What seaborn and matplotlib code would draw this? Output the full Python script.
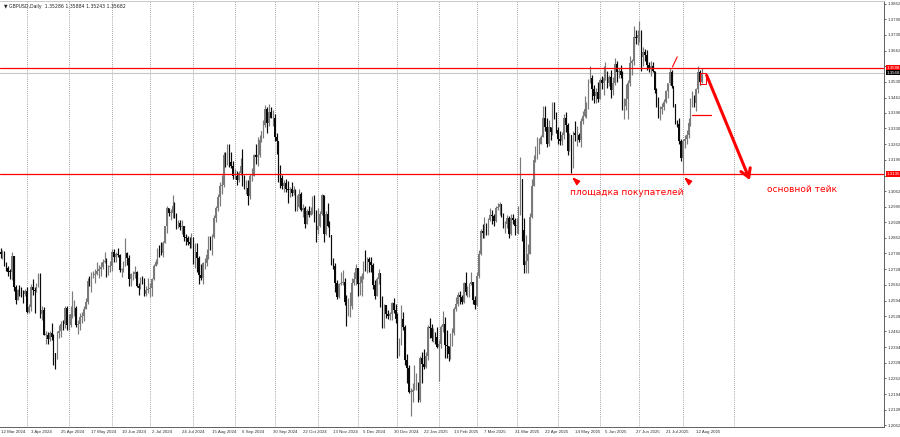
import numpy as np
import pandas as pd
import seaborn as sns
import matplotlib.pyplot as plt
from matplotlib.patches import Rectangle

# GBPUSD daily, prices x 10000, one row per month (Mar 2024 .. Aug 2025)
closes = [
    12795, 12800, 12752, 12735, 12718, 12717, 12786, 12652, 12598, 12640, 12637, 12627, 12622, 12636,
    12547, 12566, 12650, 12640, 12637, 12658, 12676, 12538, 12555, 12448, 12448, 12428, 12455, 12438, 12371, 12346, 12455, 12465, 12496, 12494, 12563, 12490,
    12490, 12536, 12545, 12562, 12489, 12494, 12524, 12526, 12560, 12586, 12676, 12668, 12703, 12705, 12708, 12721, 12727, 12738, 12760, 12763, 12716, 12736, 12740,
    12800, 12779, 12795, 12789, 12723, 12727, 12746, 12796, 12776, 12686, 12707, 12708, 12717, 12655, 12647, 12686, 12685, 12622, 12640, 12645,
    12646, 12686, 12742, 12760, 12814, 12807, 12796, 12842, 12912, 12991, 12970, 12970, 13000, 12960, 12915, 12925, 12910, 12913, 12865, 12860, 12845, 12838, 12855,
    12775, 12800, 12775, 12705, 12690, 12755, 12755, 12790, 12860, 12825, 12865, 12945, 12990, 13035, 13085, 13090, 13215, 13185, 13260, 13185, 13170, 13125,
    13125, 13110, 13140, 13170, 13125, 13075, 13075, 13040, 13125, 13125, 13215, 13210, 13215, 13280, 13320, 13345, 13415, 13355, 13400, 13375, 13375,
    13295, 13275, 13125, 13120, 13085, 13095, 13070, 13065, 13070, 13055, 13065, 12995, 12995, 13050, 12980, 12990, 12920, 12975, 12960, 12975, 13030, 12970, 12895,
    12915, 12965, 13045, 12880, 12965, 12915, 12875, 12755, 12740, 12670, 12610, 12665, 12670, 12675, 12590, 12530, 12570, 12570, 12670, 12685, 12735,
    12665, 12670, 12700, 12750, 12745, 12770, 12760, 12745, 12660, 12615, 12685, 12710, 12575, 12560, 12575, 12535, 12530, 12535, 12585, 12555, 12515,
    12375, 12420, 12515, 12480, 12340, 12305, 12205, 12205, 12210, 12240, 12240, 12170, 12350, 12325, 12310, 12355, 12480, 12475, 12435, 12450, 12440, 12395,
    12410, 12480, 12495, 12405, 12400, 12365, 12450, 12455, 12560, 12580, 12620, 12610, 12590, 12670, 12630, 12630, 12665, 12675, 12595, 12575,
    12700, 12795, 12890, 12885, 12920, 12880, 12940, 12960, 12955, 12935, 12990, 12995, 13005, 12965, 12915, 12920, 12945, 12880, 12945, 12940, 12915,
    12915, 12965, 13115, 12895, 12745, 12765, 12795, 12950, 13085, 13195, 13235, 13255, 13265, 13295, 13375, 13335, 13265, 13335, 13315, 13440, 13390, 13325,
    13285, 13275, 13300, 13375, 13345, 13235, 13300, 13180, 13310, 13300, 13300, 13280, 13360, 13385, 13415, 13425, 13535, 13545, 13500, 13470, 13485, 13455,
    13535, 13525, 13545, 13570, 13525, 13550, 13495, 13525, 13605, 13570, 13575, 13560, 13420, 13425, 13455, 13525, 13610, 13620, 13720, 13715, 13730,
    13745, 13635, 13655, 13645, 13600, 13590, 13595, 13575, 13495, 13440, 13380, 13415, 13420, 13445, 13490, 13525, 13570, 13510, 13435, 13355, 13350, 13275, 13205,
    13275, 13285, 13300, 13355, 13450, 13450, 13440, 13500, 13570, 13530, 13568,
]
highs = [
    12820, 12810, 12805, 12760, 12740, 12730, 12803, 12773, 12660, 12645, 12660, 12650, 12640, 12645,
    12650, 12580, 12665, 12685, 12650, 12670, 12710, 12710, 12570, 12565, 12465, 12460, 12465, 12500, 12450, 12360, 12465, 12490, 12505, 12510, 12570, 12570,
    12535, 12570, 12635, 12595, 12570, 12510, 12540, 12545, 12570, 12605, 12690, 12700, 12715, 12720, 12730, 12760, 12745, 12760, 12770, 12800, 12775, 12745, 12765,
    12815, 12815, 12800, 12820, 12795, 12735, 12765, 12860, 12800, 12790, 12710, 12720, 12740, 12720, 12670, 12695, 12700, 12690, 12655, 12690,
    12670, 12690, 12750, 12770, 12820, 12830, 12845, 12850, 12915, 13000, 12990, 12985, 13044, 13015, 12970, 12940, 12940, 12940, 12910, 12880, 12870, 12865, 12885,
    12865, 12840, 12840, 12785, 12750, 12760, 12775, 12815, 12870, 12870, 12880, 12960, 13000, 13050, 13100, 13130, 13230, 13230, 13265, 13265, 13230, 13190,
    13155, 13150, 13150, 13205, 13240, 13130, 13110, 13110, 13135, 13160, 13220, 13265, 13295, 13300, 13300, 13365, 13430, 13420, 13434, 13420, 13410,
    13390, 13310, 13270, 13175, 13130, 13110, 13115, 13105, 13080, 13100, 13085, 13070, 13045, 13070, 13060, 13005, 13000, 12985, 13000, 12995, 13040, 13045, 12980,
    12990, 12975, 13050, 13045, 12975, 13010, 12935, 12875, 12775, 12755, 12680, 12670, 12715, 12725, 12690, 12620, 12605, 12630, 12690, 12715, 12750,
    12720, 12700, 12710, 12765, 12811, 12780, 12780, 12780, 12755, 12680, 12695, 12730, 12710, 12615, 12580, 12560, 12555, 12545, 12590, 12605, 12580,
    12540, 12435, 12575, 12545, 12490, 12365, 12320, 12220, 12240, 12320, 12285, 12245, 12355, 12375, 12385, 12375, 12490, 12520, 12495, 12475, 12460, 12480,
    12425, 12490, 12550, 12525, 12470, 12400, 12455, 12475, 12565, 12610, 12630, 12635, 12620, 12675, 12715, 12655, 12670, 12715, 12675, 12615,
    12715, 12810, 12900, 12920, 12950, 12925, 12945, 12990, 12980, 12965, 13000, 13010, 13015, 13005, 12970, 12935, 12960, 12955, 12965, 12965, 12945,
    12945, 13000, 13207, 13110, 12945, 12875, 12835, 12970, 13115, 13215, 13255, 13295, 13290, 13300, 13424, 13425, 13375, 13365, 13335, 13445, 13445, 13400,
    13335, 13320, 13315, 13390, 13400, 13355, 13310, 13300, 13320, 13360, 13340, 13310, 13375, 13405, 13470, 13445, 13540, 13595, 13560, 13515, 13505, 13530,
    13545, 13555, 13595, 13615, 13575, 13560, 13580, 13550, 13630, 13620, 13590, 13600, 13575, 13460, 13520, 13535, 13640, 13625, 13770, 13750, 13750,
    13789, 13750, 13680, 13670, 13665, 13615, 13620, 13615, 13575, 13505, 13465, 13425, 13440, 13455, 13495, 13525, 13589, 13580, 13510, 13430, 13365, 13375, 13285,
    13285, 13300, 13325, 13375, 13460, 13490, 13475, 13505, 13595, 13580, 13588,
]
lows = [
    12775, 12770, 12740, 12720, 12700, 12685, 12680, 12635, 12580, 12595, 12615, 12610, 12585, 12615,
    12540, 12540, 12550, 12620, 12540, 12630, 12650, 12520, 12510, 12445, 12410, 12410, 12420, 12425, 12320, 12300, 12350, 12435, 12440, 12470, 12475, 12470,
    12470, 12480, 12520, 12530, 12480, 12450, 12470, 12500, 12505, 12565, 12580, 12655, 12630, 12690, 12670, 12705, 12690, 12700, 12730, 12755, 12695, 12705, 12715,
    12720, 12760, 12760, 12780, 12715, 12695, 12715, 12740, 12745, 12655, 12655, 12680, 12690, 12650, 12620, 12645, 12665, 12615, 12615, 12625,
    12610, 12615, 12680, 12740, 12750, 12780, 12790, 12780, 12840, 12885, 12955, 12940, 12945, 12945, 12900, 12905, 12895, 12880, 12850, 12830, 12830, 12820, 12820,
    12750, 12735, 12715, 12665, 12680, 12665, 12730, 12740, 12770, 12810, 12790, 12860, 12930, 12975, 13000, 13050, 13080, 13165, 13175, 13165, 13160, 13115,
    13115, 13090, 13100, 13130, 13085, 13070, 13050, 13002, 13030, 13105, 13125, 13180, 13170, 13210, 13270, 13290, 13335, 13310, 13340, 13375, 13340,
    13275, 13220, 13100, 13075, 13070, 13060, 13060, 13010, 13035, 13040, 13045, 12975, 12975, 12990, 12975, 12950, 12905, 12920, 12950, 12960, 12965, 12930, 12845,
    12880, 12910, 12960, 12845, 12875, 12910, 12865, 12745, 12730, 12630, 12600, 12605, 12660, 12660, 12575, 12487, 12560, 12525, 12560, 12660, 12660,
    12615, 12620, 12615, 12685, 12720, 12710, 12715, 12715, 12645, 12600, 12615, 12665, 12565, 12475, 12475, 12520, 12515, 12510, 12510, 12540, 12500,
    12350, 12355, 12405, 12470, 12320, 12240, 12200, 12100, 12160, 12210, 12210, 12160, 12160, 12240, 12300, 12305, 12340, 12435, 12420, 12415, 12410, 12390,
    12250, 12390, 12460, 12350, 12350, 12335, 12345, 12400, 12445, 12550, 12570, 12580, 12580, 12585, 12620, 12610, 12610, 12660, 12580, 12560,
    12570, 12690, 12790, 12860, 12860, 12875, 12875, 12935, 12920, 12915, 12930, 12980, 12960, 12950, 12905, 12885, 12905, 12860, 12875, 12920, 12875,
    12885, 12880, 12960, 12850, 12710, 12710, 12710, 12795, 12945, 13085, 13185, 13200, 13220, 13265, 13295, 13320, 13250, 13255, 13280, 13300, 13370, 13310,
    13265, 13260, 13260, 13285, 13315, 13215, 13240, 13140, 13160, 13275, 13255, 13270, 13250, 13350, 13380, 13375, 13415, 13525, 13450, 13440, 13440, 13445,
    13455, 13500, 13475, 13535, 13505, 13510, 13460, 13475, 13515, 13530, 13545, 13545, 13410, 13370, 13410, 13370, 13510, 13560, 13600, 13690, 13685,
    13700, 13575, 13595, 13620, 13580, 13570, 13555, 13570, 13480, 13420, 13375, 13365, 13390, 13410, 13440, 13460, 13515, 13505, 13420, 13350, 13335, 13265, 13190,
    13140, 13245, 13265, 13290, 13340, 13420, 13420, 13405, 13480, 13515, 13524,
]
first_open = 12800
holidays = ["2024-12-25", "2025-01-01"]

price_labels = ["1.2062", "1.2128", "1.2194", "1.2262", "1.2328", "1.2394", "1.2462",
                "1.2528", "1.2594", "1.2662", "1.2728", "1.2796", "1.2862", "1.2928",
                "1.2996", "1.3062", "1.3128", "1.3196", "1.3262", "1.3330", "1.3396",
                "1.3462", "1.3530", "1.3596", "1.3662", "1.3730", "1.3796", "1.3862"]
resistance = 1.3588
support = 1.3135
last_ohlc = ["1.35286", "1.35884", "1.35243", "1.35682"]
take_level = 1.3388

dates = pd.bdate_range("2024-03-12", "2025-08-15", freq="C", holidays=holidays)
n = min(len(dates), len(closes))
df = pd.DataFrame({
    "date": dates[:n],
    "close": np.array(closes[:n]) / 10000,
    "high": np.array(highs[:n]) / 10000,
    "low": np.array(lows[:n]) / 10000,
})
df["open"] = df["close"].shift(1).fillna(first_open / 10000)
df["high"] = df[["high", "open", "close"]].max(axis=1)
df["low"] = df[["low", "open", "close"]].min(axis=1)
df["x"] = np.arange(n)
last_price = float(last_ohlc[3])

sns.set_theme(style="white")
plt.rcParams["font.family"] = ["DejaVu Sans"]

fig = plt.figure(figsize=(9, 4.37), dpi=100)
ax = fig.add_axes([0, 10 / 437, 884 / 900, 426 / 437])
ax.set_facecolor("white")

# month grid (dotted), incl. next month in empty space
month_first = df.groupby(df["date"].dt.to_period("M"))["x"].first().values[1:]
future = n - 1 + (pd.Timestamp("2025-09-01") - df["date"].iloc[-1]).days
for gx in list(month_first) + [future]:
    ax.axvline(gx, color="#505050", lw=0.5, ls=(0, (1, 2)), zorder=0)

# candles
up = df["close"] >= df["open"]
col = np.where(up, "#7a7a7a", "#0a0a0a")
ax.vlines(df["x"], df["low"], df["high"], colors=col, lw=0.85, zorder=2)
body_lo = df[["open", "close"]].min(axis=1)
body_h = (df["close"] - df["open"]).abs().clip(lower=0.00015)
ax.bar(df["x"], body_h, bottom=body_lo, width=0.75, color=col, lw=0, zorder=2)

# levels
ax.axhline(resistance, color="#ff0000", lw=0.9, zorder=3)
ax.axhline(support, color="#ff0000", lw=0.9, zorder=3)
ax.axhline(last_price, color="#c8c8c8", lw=0.8, zorder=1)

# drawings
last_x = n - 1
ax.annotate("", xy=(last_x + 26, support - 0.0037), xytext=(last_x + 2, last_price),
            arrowprops=dict(arrowstyle="->,head_length=0.5,head_width=0.3",
                            color="#ff0000", lw=2.2), zorder=4)
ax.add_patch(Rectangle((last_x - 1, last_price - 0.0050), 3, 0.0050, fill=False,
                       ec="#ff0000", lw=0.7, zorder=4))
ax.plot([last_x - 5, last_x + 5], [take_level, take_level], color="#ff0000", lw=0.9, zorder=4)
peak_x = df.loc[df["date"] == "2025-07-23", "x"].iloc[0]
ax.plot([peak_x + 1.5, peak_x + 4], [resistance + 0.0005, resistance + 0.0048],
        color="#ff0000", lw=0.8, zorder=4)

tri = [(-1, 1), (1, 0.1), (0.1, -1), (-1, 1)]
for d in ["2025-05-12", "2025-08-01"]:
    bx = df.loc[df["date"] == d, "x"].iloc[0]
    ax.plot(bx + 2.5, support - 0.0028, marker=tri, ms=4.5, color="#ff0000", zorder=4)

ax.text(301.5, support - 0.0079, "площадка покупателей", color="#ff0000",
        fontsize=6.5, va="center", ha="left")
ax.text(405.5, support - 0.0066, "основной тейк", color="#ff0000",
        fontsize=6.5, va="center", ha="left")

ax.text(0.004, 0.992, "▼ GBPUSD,Daily  " + " ".join(last_ohlc), transform=ax.transAxes,
        fontsize=3.3, va="top", ha="left", color="#222222")

# axes
ax.set_xlim(-0.3, 467.4)
ax.set_ylim(1.3862 - 423 / 2339, 1.3862 + 3 / 2339)

xt = df["x"].values[::16]
ax.set_xticks(xt)
ax.set_xticklabels([f"{d.day} {d:%b %Y}" for d in df["date"].iloc[::16]],
                   ha="left", fontsize=3.2, family="Liberation Sans")
ax.yaxis.tick_right()
ax.set_yticks([float(v) for v in price_labels])
# labels hidden behind the level boxes
shown = [v if min(abs(float(v) - resistance), abs(float(v) - support)) > 0.002 else ""
         for v in price_labels]
ax.set_yticklabels(shown, fontsize=3.2, family="Liberation Sans")
ax.tick_params(axis="both", length=1.5, width=0.5, pad=1, colors="#333333")
ax.tick_params(axis="x", pad=0.8)

for lvl, txt, bg in [(resistance, f"{resistance:.4f}", "#ff0000"),
                     (last_price, f"{last_price:.4f}", "#000000"),
                     (support, f"{support:.4f}", "#ff0000")]:
    ax.text(1.0025, lvl, txt, transform=ax.get_yaxis_transform(), fontsize=3.2,
            family="Liberation Sans", color="white", va="center", ha="left",
            bbox=dict(boxstyle="square,pad=0.15", fc=bg, ec="none"), zorder=5)

ax.spines["left"].set_visible(False)
ax.spines["top"].set_color("#c0c0c0")
ax.spines["top"].set_linewidth(0.6)
for s in ["right", "bottom"]:
    ax.spines[s].set_color("#606060")
    ax.spines[s].set_linewidth(0.7)

fig.savefig("out.png", dpi=100)
